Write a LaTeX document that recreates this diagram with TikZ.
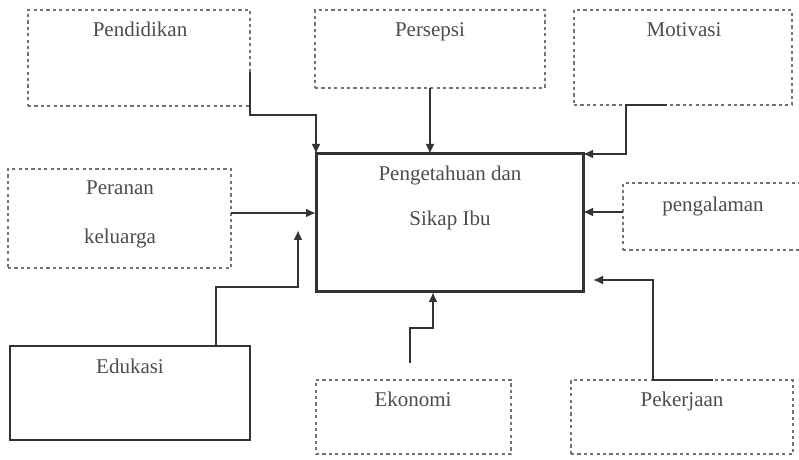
\documentclass[tikz,border=0pt]{standalone}
\usepackage{fontspec}
\setmainfont{Liberation Serif}
\usetikzlibrary{arrows.meta,calc,positioning}
\tikzset{
  kotak/.style={draw=black!55,line width=0.9pt,dash pattern=on 1.6pt off 1.6pt,inner sep=0pt,outer sep=0pt},
  utama/.style={draw=black!80,line width=1.5pt,inner sep=0pt,outer sep=0pt},
  biasa/.style={draw=black!80,line width=0.8pt,inner sep=0pt,outer sep=0pt},
  teks/.style={anchor=base,inner sep=0pt,text=black!70,font=\fontsize{10.5}{12}\selectfont},
  panah/.style={draw=black!80,line width=1.1pt,-{Latex[length=5pt,width=4.5pt]}},
  garis/.style={draw=black!80,line width=1.1pt}
}
\begin{document}
\begin{tikzpicture}[x=0.5pt,y=-0.5pt]
            \clip (0,0) rectangle (799,460);
            \node[kotak,minimum width=111pt,minimum height=48pt] (pendidikan) at (139,58) {};
            \node[kotak,minimum width=115pt,minimum height=39pt] (persepsi) at (430,49) {};
            \node[kotak,minimum width=109pt,minimum height=47.5pt] (motivasi) at (683,57.5) {};
            \node[utama,minimum width=133.5pt,minimum height=69pt] (inti) at (449.5,223) {};
            \node[kotak,minimum width=111.5pt,minimum height=49.5pt] (peranan) at (119.5,218.5) {};
            \node[kotak,minimum width=93.5pt,minimum height=33.5pt] (pengalaman) at (716.5,216.5) {};
            \node[biasa,minimum width=120pt,minimum height=47pt] (edukasi) at (130,393) {};
            \node[kotak,minimum width=97.5pt,minimum height=37pt] (ekonomi) at (413.5,417) {};
            \node[kotak,minimum width=111pt,minimum height=37pt] (pekerjaan) at (682,417) {};
            \node[teks] (t-pendidikan) at (140,37) {Pendidikan};
            \node[teks] (t-persepsi) at (430,37) {Persepsi};
            \node[teks] (t-motivasi) at (684,37) {Motivasi};
            \node[teks] (t-inti1) at (450,181) {Pengetahuan dan};
            \node[teks] (t-inti2) at (450,226) {Sikap Ibu};
            \node[teks] (t-peranan1) at (120,195) {Peranan};
            \node[teks] (t-peranan2) at (120,243) {keluarga};
            \node[teks] (t-pengalaman) at (713,212) {pengalaman};
            \node[teks] (t-edukasi) at (130,373) {Edukasi};
            \node[teks] (t-ekonomi) at (413,407) {Ekonomi};
            \node[teks] (t-pekerjaan) at (682,407) {Pekerjaan};
            \coordinate (k-pendidikan) at ($(pendidikan.north east)+(0,62)$);
            \coordinate (k-motivasi) at ($(motivasi.south west)+(93,0)$);
            \coordinate (k-peranan) at ($(peranan.east)+(0,-5.5)$);
            \coordinate (k-pengalaman) at ($(pengalaman.west)+(0,-4.5)$);
            \coordinate (k-edukasi) at ($(edukasi.north east)+(-34,0)$);
            \coordinate (k-ekonomi) at (410,363);
            \coordinate (k-pekerjaan) at ($(pekerjaan.north west)+(142,0)$);
            \coordinate (u-edukasi) at (298,230);
            \coordinate (u-pekerjaan) at (593,280);
            \draw[panah] (k-pendidikan) -- ++(0,43) -| (inti.north west);
            \draw[panah] (persepsi.south) -- (persepsi.south |- inti.north);
            \draw[panah] (k-motivasi) -- ++(-41,0) |- (inti.north east);
            \draw[panah] (k-peranan) -- (k-peranan -| inti.west);
            \draw[panah] (k-pengalaman) -- (k-pengalaman -| inti.east);
            \draw[panah] (k-edukasi) -- ++(0,-59) -| (u-edukasi);
            \draw[panah] (k-ekonomi) -- ++(0,-35) -| ($(inti.south)+(-16.5,0)$);
            \draw[panah] (k-pekerjaan) -- ++(-60,0) |- (u-pekerjaan);
        \end{tikzpicture}
\end{document}
